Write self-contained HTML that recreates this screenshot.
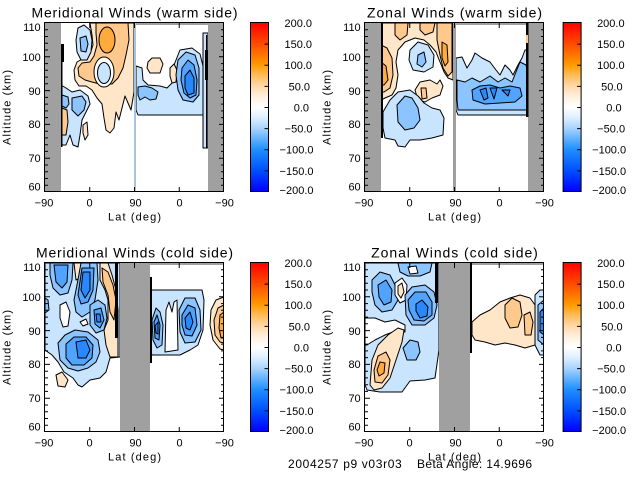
<!DOCTYPE html>
<html><head><meta charset="utf-8"><style>
html,body{margin:0;padding:0;background:#fff;width:640px;height:480px;overflow:hidden}
svg{display:block}
text{font-family:"Liberation Sans",sans-serif;fill:#000}
</style></head><body>
<svg width="640" height="480" viewBox="0 0 640 480" xmlns="http://www.w3.org/2000/svg">
<defs>
<linearGradient id="gr" x1="0" y1="0" x2="0" y2="1">
<stop offset="0" stop-color="#ff0000"/><stop offset="0.125" stop-color="#ff4a00"/><stop offset="0.25" stop-color="#ff9a00"/><stop offset="0.31" stop-color="#ffbb55"/><stop offset="0.375" stop-color="#ffd9a8"/><stop offset="0.44" stop-color="#fff0e0"/><stop offset="0.5" stop-color="#ffffff"/><stop offset="0.56" stop-color="#e0f0ff"/><stop offset="0.625" stop-color="#a8d4ff"/><stop offset="0.69" stop-color="#60b0ff"/><stop offset="0.75" stop-color="#2090ff"/><stop offset="0.875" stop-color="#0050ff"/><stop offset="1" stop-color="#0000ff"/>
</linearGradient>
<clipPath id="c1"><rect x="45" y="23" width="179" height="169"/></clipPath>
<clipPath id="c2"><rect x="365" y="23" width="179" height="169"/></clipPath>
<clipPath id="c3"><rect x="45" y="263" width="179" height="169"/></clipPath>
<clipPath id="c4"><rect x="365" y="263" width="179" height="169"/></clipPath>
<g id="ax">
<rect x="44.5" y="22.5" width="179" height="169" fill="none" stroke="#000" stroke-width="1"/>
<path fill="none" stroke="#000" stroke-width="1" d="M45,185.2h3M45,178.5h3M45,171.7h3M45,165h3M45,151.4h3M45,144.7h3M45,137.9h3M45,131.2h3M45,117.6h3M45,110.9h3M45,104.1h3M45,97.4h3M45,83.8h3M45,77.1h3M45,70.3h3M45,63.6h3M45,50h3M45,43.3h3M45,36.5h3M45,29.8h3M45,158.2h5M45,124.4h5M45,90.6h5M45,56.8h5M224,185.2h-3M224,178.5h-3M224,171.7h-3M224,165h-3M224,151.4h-3M224,144.7h-3M224,137.9h-3M224,131.2h-3M224,117.6h-3M224,110.9h-3M224,104.1h-3M224,97.4h-3M224,83.8h-3M224,77.1h-3M224,70.3h-3M224,63.6h-3M224,50h-3M224,43.3h-3M224,36.5h-3M224,29.8h-3M224,158.2h-5M224,124.4h-5M224,90.6h-5M224,56.8h-5M89.75,192v-5M134.5,192v-5M179.25,192v-5M89.75,23v5M134.5,23v5M179.25,23v5"/>
</g>
<g id="cb">
<rect x="250.5" y="22.5" width="18" height="169" fill="url(#gr)" stroke="#000" stroke-width="1"/>
<path fill="none" stroke="#000" stroke-width="1" d="M268.5,44.1h-4M268.5,65.25h-4M268.5,86.4h-4M268.5,107.5h-4M268.5,128.6h-4M268.5,149.75h-4M268.5,170.9h-4"/>
</g>
</defs>

<!-- ===== Panel TL ===== -->
<g clip-path="url(#c1)" stroke="#000" stroke-width="1" stroke-linejoin="round">
<path fill="#ffe6c8" d="M90,23 L134,23 L134,92 L131,110 L128,103 L125,96 L122,108 L119,120 L116,112 L114,128 L110,133 L106,130 L104,118 L102,104 L97,98 L92,90 L86,86 L79,86 L75,80 L74,70 L77,62 L84,58 L90,54 L93,45 L92,35 Z"/>
<path fill="#ffc88c" d="M96,23 L128,23 L129,40 L126,55 L123,68 L118,78 L112,84 L100,84 L92,82 L85,80 L79,76 L78,68 L82,63 L90,62 L94,56 L97,45 L96,33 Z"/>
<ellipse fill="#ffaa3c" cx="107" cy="40" rx="8" ry="13"/>
<ellipse fill="#fff" cx="104" cy="72" rx="10" ry="15"/>
<ellipse fill="#c8e4ff" cx="104" cy="73" rx="6.5" ry="10.5"/>
<path fill="#c8e4ff" d="M78,28 L84,25 L90,30 L92,40 L91,52 L87,60 L81,60 L77,52 L76,40 Z"/>
<path fill="#8cc4ff" d="M80,38 L86,36 L88,44 L86,52 L81,51 Z"/>
<path fill="#c8e4ff" d="M61,85 L66,88 L72,92 L80,90 L88,96 L90,104 L86,112 L82,120 L80,135 L78,147 L73,145 L70,135 L66,145 L62,145 L61,140 Z"/>
<path fill="#8cc4ff" d="M72,98 L82,96 L86,102 L84,110 L78,116 L72,110 Z"/>
<path fill="#8cc4ff" d="M62,95 L68,97 L69,104 L66,108 L62,106 Z"/>
<path fill="#ffc88c" d="M62,108 L67,110 L68,122 L66,135 L62,135 Z"/>
<path fill="#ffe6c8" d="M83,125 L87,122 L88,135 L85,140 L83,133 Z"/>
<path fill="#c8e4ff" d="M136,66 L142,68 L143,80 L148,85 L160,86 L167,88 L172,83 L174,65 L180,50 L192,48 L200,54 L203,66 L203,115 L138,115 L136,110 Z"/>
<path fill="#ffe6c8" d="M148,62 L152,58 L160,58 L163,64 L160,73 L150,73 L147,68 Z"/>
<path fill="#ffe6c8" d="M170,68 L174,64 L177,70 L176,82 L172,83 L170,76 Z"/>
<path fill="#8cc4ff" d="M138,87 L145,86 L152,88 L158,92 L156,99 L150,100 L145,97 L140,100 L138,95 Z"/>
<path fill="#8cc4ff" d="M178,60 L186,52 L195,55 L199,68 L199,95 L193,102 L183,100 L178,90 L176,75 Z"/>
<path fill="#50a4ff" d="M182,68 L188,60 L194,65 L197,80 L196,95 L190,98 L184,93 L181,80 Z"/>
<path fill="#2a88ff" d="M185,76 L190,70 L194,78 L194,93 L188,95 L185,88 Z"/>
<path fill="#c8e4ff" d="M203,33 L208,33 L208,148 L203,148 Z"/>
<g stroke="none">
<rect x="45" y="23" width="16" height="169" fill="#a0a0a0"/>
<rect x="208" y="23" width="16" height="169" fill="#a0a0a0"/>
<rect x="134" y="23" width="2" height="169" fill="#a8c4dc"/>
<rect x="136" y="23" width="72" height="2" fill="#a0a0a0"/>
<rect x="61" y="44" width="3" height="18" fill="#000"/>
<rect x="61" y="62" width="1.5" height="85" fill="#000"/>
<rect x="205" y="50" width="3" height="30" fill="#000"/>
<rect x="206" y="35" width="1.2" height="113" fill="#000"/>
</g>
</g>

<!-- ===== Panel TR ===== -->
<g clip-path="url(#c2)" stroke="#000" stroke-width="1" stroke-linejoin="round">
<path fill="#ffe6c8" d="M381,23 L453,23 L453,80 L448,78 L444,72 L440,62 L436,52 L430,45 L424,40 L415,38 L405,42 L398,50 L396,62 L398,75 L396,88 L392,95 L385,98 L381,100 Z"/>
<path fill="#ffc88c" d="M381,45 L387,48 L392,58 L393,75 L390,88 L384,92 L381,92 Z"/>
<path fill="#ffaa3c" d="M381,62 L386,66 L388,80 L384,85 L381,85 Z"/>
<path fill="#ffc88c" d="M395,23 L408,23 L407,35 L400,40 L395,35 Z"/>
<path fill="#ffc88c" d="M420,23 L435,23 L433,32 L425,35 L420,30 Z"/>
<path fill="#ffc88c" d="M437,23 L452,23 L452,72 L448,76 L443,68 L440,55 L437,40 Z"/>
<path fill="#ffaa3c" d="M442,42 L447,45 L448,62 L445,66 L442,58 Z"/>
<path fill="#c8e4ff" d="M410,50 L418,42 L428,45 L434,55 L433,67 L424,72 L413,70 L409,60 Z"/>
<path fill="#8cc4ff" d="M418,55 L424,52 L426,62 L422,67 L417,64 Z"/>
<path fill="#ffe6c8" d="M415,90 L420,82 L430,80 L437,84 L440,80 L443,86 L440,95 L432,98 L425,102 L418,100 Z"/>
<path fill="#ffc88c" d="M421,88 L426,88 L427,98 L422,99 Z"/>
<path fill="#c8e4ff" d="M383,112 L390,100 L398,92 L410,90 L418,96 L424,103 L432,108 L440,110 L444,118 L443,135 L432,138 L420,140 L410,140 L405,147 L398,146 L395,140 L385,138 L383,128 Z"/>
<path fill="#8cc4ff" d="M397,105 L405,96 L412,98 L418,108 L420,120 L414,128 L405,130 L398,122 Z"/>
<path fill="#c8e4ff" d="M456,58 L462,57 L467,68 L472,60 L475,53 L482,58 L490,62 L496,70 L500,75 L505,65 L510,70 L513,75 L518,65 L522,58 L525,50 L528,50 L528,115 L458,115 L456,110 Z"/>
<path fill="#8cc4ff" d="M457,80 L465,82 L472,78 L480,82 L490,76 L498,82 L505,78 L512,82 L516,72 L520,62 L526,65 L528,75 L528,110 L458,110 L457,100 Z"/>
<path fill="#50a4ff" d="M472,90 L480,86 L490,85 L500,88 L510,86 L520,88 L522,96 L515,102 L500,103 L485,104 L473,100 Z"/>
<path fill="#2a88ff" d="M480,90 L486,88 L488,98 L484,100 Z"/>
<path fill="#2a88ff" d="M490,88 L497,88 L494,99 Z"/>
<path fill="#2a88ff" d="M502,90 L510,90 L508,96 Z"/>
<g stroke="none">
<rect x="365" y="23" width="16" height="169" fill="#a0a0a0"/>
<rect x="528" y="23" width="16" height="169" fill="#a0a0a0"/>
<rect x="453" y="23" width="3" height="169" fill="#a0a0a0"/>
<rect x="456" y="23" width="72" height="2" fill="#a0a0a0"/>
<rect x="381" y="23" width="2" height="115" fill="#000"/>
<rect x="526" y="23" width="2.5" height="94" fill="#000"/>
<rect x="526" y="35" width="2" height="8" fill="#ffc88c"/>
</g>
</g>

<!-- ===== Panel BL ===== -->
<g clip-path="url(#c3)" stroke="#000" stroke-width="1" stroke-linejoin="round">
<path fill="#c8e4ff" d="M45,263 L120,263 L120,357 L110,358 L106,372 L100,378 L90,380 L82,387 L78,385 L73,378 L64,372 L58,362 L52,355 L45,350 Z"/>
<path fill="#fff" d="M60,305 L66,302 L70,312 L68,326 L63,327 L60,318 Z"/>
<path fill="#fff" d="M80,322 L86,319 L88,324 L83,326 Z"/>
<path fill="#8cc4ff" d="M45,298 L48,300 L49,310 L45,313 Z"/>
<path fill="#ffe6c8" d="M100,263 L108,263 L112,275 L116,290 L118,310 L118,357 L110,357 L106,345 L104,330 L108,320 L108,300 L105,290 L100,280 Z"/>
<path fill="#ffc88c" d="M102,268 L108,272 L113,285 L116,300 L114,320 L110,312 L108,295 L103,282 Z"/>
<path fill="#ffe6c8" d="M74,263 L81,263 L80,278 L76,280 Z"/>
<path fill="#8cc4ff" d="M50,263 L73,263 L72,280 L68,293 L60,295 L53,288 L50,275 Z"/>
<path fill="#50a4ff" d="M54,265 L68,265 L67,282 L62,288 L56,282 Z"/>
<path fill="#8cc4ff" d="M81,263 L97,263 L98,280 L95,300 L90,312 L82,317 L76,312 L74,300 L77,285 Z"/>
<path fill="#50a4ff" d="M82,268 L94,268 L93,290 L88,302 L81,304 L78,295 Z"/>
<path fill="#2a88ff" d="M83,272 L90,272 L90,290 L85,298 L81,290 Z"/>
<path fill="#8cc4ff" d="M90,305 L98,300 L105,305 L107,318 L104,330 L96,333 L90,325 Z"/>
<path fill="#50a4ff" d="M94,310 L101,308 L104,320 L100,328 L95,324 Z"/>
<path fill="#2a88ff" d="M96,314 L100,314 L101,322 L97,322 Z"/>
<path fill="#8cc4ff" d="M58,343 L65,335 L75,330 L88,332 L98,340 L100,352 L96,362 L88,368 L78,371 L68,368 L60,360 Z"/>
<path fill="#50a4ff" d="M66,344 L74,337 L86,337 L93,345 L92,358 L84,365 L72,365 L66,358 Z"/>
<path fill="#2a88ff" d="M76,342 L86,340 L90,350 L86,358 L78,358 Z"/>
<path fill="#ffe6c8" d="M56,375 L62,372 L68,380 L65,387 L58,386 Z"/>
<path fill="#c8e4ff" d="M150,290 L202,290 L204,300 L203,330 L198,345 L190,350 L180,355 L152,355 L150,350 Z"/>
<path fill="#fff" d="M165,352 L166,310 L169,302 L172,312 L174,302 L177,300 L178,350 Z"/>
<path fill="#8cc4ff" d="M152,320 L156,308 L160,312 L163,325 L162,345 L157,348 L153,340 Z"/>
<path fill="#50a4ff" d="M154,322 L157,315 L160,325 L159,340 L155,338 Z"/>
<path fill="#2a88ff" d="M155,326 L158,322 L158,334 L156,333 Z"/>
<path fill="#8cc4ff" d="M179,310 L185,298 L195,298 L200,310 L201,330 L195,342 L185,343 L180,332 Z"/>
<path fill="#50a4ff" d="M182,315 L188,305 L195,308 L197,325 L192,336 L185,335 L182,325 Z"/>
<path fill="#2a88ff" d="M185,318 L190,312 L193,322 L190,330 L186,328 Z"/>
<path fill="#ffe6c8" d="M224,297 L216,300 L211,310 L210,325 L213,340 L220,349 L224,350 Z"/>
<path fill="#ffc88c" d="M224,305 L218,308 L214,320 L215,335 L220,342 L224,343 Z"/>
<path fill="#ffaa3c" d="M224,312 L220,315 L219,328 L221,338 L224,338 Z"/>
<g stroke="none">
<rect x="120" y="263" width="30" height="169" fill="#a0a0a0"/>
<rect x="150" y="263" width="74" height="2" fill="#a0a0a0"/>
<rect x="115" y="263" width="3" height="75" fill="#000"/>
<rect x="150" y="277" width="2" height="86" fill="#000"/>
</g>
</g>

<!-- ===== Panel BR ===== -->
<g clip-path="url(#c4)" stroke="#000" stroke-width="1" stroke-linejoin="round">
<path fill="#c8e4ff" d="M365,263 L439,263 L439,350 L435,378 L425,380 L410,381 L402,392 L380,392 L367,390 L365,385 Z"/>
<path fill="#fff" d="M365,318 L375,318 L385,322 L395,320 L405,325 L405,332 L398,330 L385,335 L375,340 L367,345 L365,345 Z"/>
<path fill="#ffe6c8" d="M370,385 L372,360 L378,345 L388,335 L398,328 L404,330 L402,342 L396,360 L390,378 L382,388 L374,390 Z"/>
<path fill="#ffc88c" d="M374,370 L378,356 L386,352 L390,360 L388,375 L382,383 L375,382 Z"/>
<path fill="#ffaa3c" d="M377,370 L380,362 L385,363 L384,373 L379,376 Z"/>
<path fill="#8cc4ff" d="M372,280 L380,272 L390,275 L395,285 L398,300 L392,310 L382,312 L375,305 L372,292 Z"/>
<path fill="#50a4ff" d="M378,285 L386,280 L392,290 L391,302 L384,305 L379,297 Z"/>
<path fill="#8cc4ff" d="M398,263 L432,263 L430,272 L420,276 L408,276 L400,272 Z"/>
<path fill="#fff" d="M408,267 L416,266 L418,273 L410,274 Z"/>
<path fill="#fff" d="M395,283 L402,278 L407,285 L406,300 L400,303 L395,295 Z"/>
<path fill="#ffe6c8" d="M398,286 L402,283 L404,292 L401,298 L398,294 Z"/>
<path fill="#8cc4ff" d="M405,295 L412,287 L425,285 L434,292 L437,305 L434,318 L425,325 L412,325 L406,315 Z"/>
<path fill="#50a4ff" d="M408,300 L415,292 L426,292 L432,302 L432,315 L424,321 L414,320 L409,310 Z"/>
<path fill="#2a88ff" d="M416,304 L422,300 L428,307 L427,316 L420,318 L416,311 Z"/>
<path fill="#8cc4ff" d="M403,348 L410,340 L418,342 L420,352 L416,360 L407,360 Z"/>
<path fill="#ffe6c8" d="M472,322 L480,315 L490,310 L500,302 L510,298 L520,295 L530,298 L535,305 L535,345 L525,348 L515,345 L505,343 L495,345 L485,342 L475,340 L472,335 Z"/>
<path fill="#ffc88c" d="M505,305 L512,298 L520,302 L522,315 L518,327 L510,328 L505,318 Z"/>
<path fill="#ffc88c" d="M524,315 L530,312 L533,322 L531,335 L525,335 Z"/>
<path fill="#c8e4ff" d="M535,295 L540,290 L544,290 L544,355 L540,355 L535,345 Z"/>
<path fill="#8cc4ff" d="M538,305 L544,300 L544,345 L538,340 Z"/>
<path fill="#2a88ff" d="M540,312 L544,308 L544,335 L540,332 Z"/>
<g stroke="none">
<rect x="439" y="263" width="31" height="169" fill="#a0a0a0"/>
<rect x="470" y="263" width="74" height="2" fill="#a0a0a0"/>
<rect x="435" y="263" width="3" height="40" fill="#000"/>
<rect x="470" y="263" width="2" height="90" fill="#000"/>
</g>
</g>

<!-- axes & colorbars -->
<use href="#ax"/>
<use href="#ax" transform="translate(320,0)"/>
<use href="#ax" transform="translate(0,240)"/>
<use href="#ax" transform="translate(320,240)"/>
<use href="#cb"/>
<use href="#cb" transform="translate(312.6,0)"/>
<use href="#cb" transform="translate(0,240)"/>
<use href="#cb" transform="translate(312.6,240)"/>

<!-- ===== Text: TL ===== -->
<g>
<text x="134.5" y="17.5" font-size="14" text-anchor="middle" textLength="206" lengthAdjust="spacing">Meridional Winds (warm side)</text>
<g font-size="11" text-anchor="end">
<text x="40.7" y="31">110</text><text x="40.7" y="61.2">100</text><text x="40.7" y="94.8">90</text><text x="40.7" y="128.2">80</text><text x="40.7" y="162">70</text><text x="40.7" y="190.3">60</text>
</g>
<g font-size="11" text-anchor="middle">
<text x="44" y="206.7">−90</text><text x="89.5" y="206.7">0</text><text x="135.5" y="206.7">90</text><text x="179.5" y="206.7">0</text><text x="224.5" y="206.7">−90</text>
</g>
<text x="134.5" y="220.5" font-size="11" text-anchor="middle" textLength="53">Lat (deg)</text>
<text transform="translate(10.5,107.5) rotate(-90)" font-size="11" text-anchor="middle" textLength="75">Altitude (km)</text>
<g font-size="11" text-anchor="end">
<text x="312" y="27">200.0</text><text x="312" y="48.1">150.0</text><text x="312" y="69.2">100.0</text><text x="310" y="90.3">50.0</text><text x="309" y="111.5">0.0</text><text x="312.5" y="132.6">−50.0</text><text x="313.5" y="153.7">−100.0</text><text x="313.5" y="174.8">−150.0</text><text x="313.5" y="194">−200.0</text>
</g>
</g>

<!-- ===== Text: TR ===== -->
<g transform="translate(320,0)">
<text x="134.5" y="17.5" font-size="14" text-anchor="middle" textLength="175" lengthAdjust="spacing">Zonal Winds (warm side)</text>
<g font-size="11" text-anchor="end">
<text x="40.7" y="31">110</text><text x="40.7" y="61.2">100</text><text x="40.7" y="94.8">90</text><text x="40.7" y="128.2">80</text><text x="40.7" y="162">70</text><text x="40.7" y="190.3">60</text>
</g>
<g font-size="11" text-anchor="middle">
<text x="44" y="206.7">−90</text><text x="89.5" y="206.7">0</text><text x="135.5" y="206.7">90</text><text x="179.5" y="206.7">0</text><text x="224.5" y="206.7">−90</text>
</g>
<text x="134.5" y="220.5" font-size="11" text-anchor="middle" textLength="53">Lat (deg)</text>
<text transform="translate(10.5,107.5) rotate(-90)" font-size="11" text-anchor="middle" textLength="75">Altitude (km)</text>
<g font-size="11" text-anchor="end" transform="translate(-7.4,0)">
<text x="312" y="27">200.0</text><text x="312" y="48.1">150.0</text><text x="312" y="69.2">100.0</text><text x="310" y="90.3">50.0</text><text x="309" y="111.5">0.0</text><text x="312.5" y="132.6">−50.0</text><text x="313.5" y="153.7">−100.0</text><text x="313.5" y="174.8">−150.0</text><text x="313.5" y="194">−200.0</text>
</g>
</g>

<!-- ===== Text: BL ===== -->
<g transform="translate(0,240)">
<text x="134.5" y="17.5" font-size="14" text-anchor="middle" textLength="197" lengthAdjust="spacing">Meridional Winds (cold side)</text>
<g font-size="11" text-anchor="end">
<text x="40.7" y="31">110</text><text x="40.7" y="61.2">100</text><text x="40.7" y="94.8">90</text><text x="40.7" y="128.2">80</text><text x="40.7" y="162">70</text><text x="40.7" y="190.3">60</text>
</g>
<g font-size="11" text-anchor="middle">
<text x="44" y="206.7">−90</text><text x="89.5" y="206.7">0</text><text x="135.5" y="206.7">90</text><text x="179.5" y="206.7">0</text><text x="224.5" y="206.7">−90</text>
</g>
<text x="134.5" y="220.5" font-size="11" text-anchor="middle" textLength="53">Lat (deg)</text>
<text transform="translate(10.5,107.5) rotate(-90)" font-size="11" text-anchor="middle" textLength="75">Altitude (km)</text>
<g font-size="11" text-anchor="end">
<text x="312" y="27">200.0</text><text x="312" y="48.1">150.0</text><text x="312" y="69.2">100.0</text><text x="310" y="90.3">50.0</text><text x="309" y="111.5">0.0</text><text x="312.5" y="132.6">−50.0</text><text x="313.5" y="153.7">−100.0</text><text x="313.5" y="174.8">−150.0</text><text x="313.5" y="194">−200.0</text>
</g>
</g>

<!-- ===== Text: BR ===== -->
<g transform="translate(320,240)">
<text x="134.5" y="17.5" font-size="14" text-anchor="middle" textLength="166.7" lengthAdjust="spacing">Zonal Winds (cold side)</text>
<g font-size="11" text-anchor="end">
<text x="40.7" y="31">110</text><text x="40.7" y="61.2">100</text><text x="40.7" y="94.8">90</text><text x="40.7" y="128.2">80</text><text x="40.7" y="162">70</text><text x="40.7" y="190.3">60</text>
</g>
<g font-size="11" text-anchor="middle">
<text x="44" y="206.7">−90</text><text x="89.5" y="206.7">0</text><text x="135.5" y="206.7">90</text><text x="179.5" y="206.7">0</text><text x="224.5" y="206.7">−90</text>
</g>
<text x="134.5" y="220.5" font-size="11" text-anchor="middle" textLength="53">Lat (deg)</text>
<text transform="translate(10.5,107.5) rotate(-90)" font-size="11" text-anchor="middle" textLength="75">Altitude (km)</text>
<g font-size="11" text-anchor="end" transform="translate(-7.4,0)">
<text x="312" y="27">200.0</text><text x="312" y="48.1">150.0</text><text x="312" y="69.2">100.0</text><text x="310" y="90.3">50.0</text><text x="309" y="111.5">0.0</text><text x="312.5" y="132.6">−50.0</text><text x="313.5" y="153.7">−100.0</text><text x="313.5" y="174.8">−150.0</text><text x="313.5" y="194">−200.0</text>
</g>
</g>

<!-- footer -->
<text x="288" y="468" font-size="12" textLength="113.7">2004257 p9 v03r03</text>
<text x="417" y="468" font-size="12" textLength="115">Beta Angle: 14.9696</text>
</svg>
</body></html>
